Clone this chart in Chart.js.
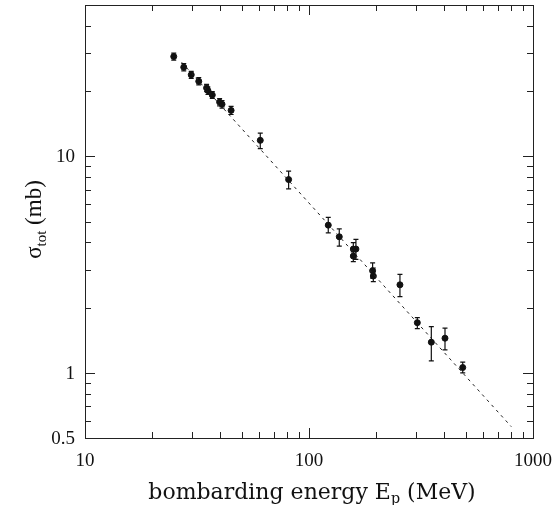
<!DOCTYPE html>
<html>
<head>
<meta charset="utf-8">
<script src="https://cdn.jsdelivr.net/npm/chart.js@4"></script>
<style>
  html, body { margin: 0; padding: 0; background: #fff; }
  #wrap { width: 556px; height: 505px; }
</style>
</head>
<body>
<div id="wrap"><canvas id="c"></canvas></div>
<script>
// measured cross sections (E_p in MeV, sigma in mb)
const energy = [24.9, 27.6, 29.8, 32.2, 34.9, 35.4, 37.0, 39.9, 40.9, 44.9, 60.6, 81.1,
                121.9, 136.5, 157.7, 162, 157.7, 192.3, 193.7, 254.7, 304.5, 351.6, 404.7, 485.6]
const sigma  = [28.9, 25.8, 23.8, 22.2, 20.7, 20.1, 19.2, 17.8, 17.4, 16.3, 11.85, 7.81,
                4.81, 4.25, 3.73, 3.73, 3.46, 2.96, 2.80, 2.55, 1.705, 1.385, 1.445, 1.058]
const sigmaLo = [27.8, 24.8, 22.9, 21.4, 19.9, 19.3, 18.5, 17.1, 16.7, 15.6, 10.85, 7.07,
                 4.43, 3.85, 3.50, 3.34, 3.26, 2.74, 2.64, 2.25, 1.60, 1.136, 1.276, 1.00]
const sigmaHi = [30.0, 26.8, 24.7, 23.1, 21.5, 20.9, 19.9, 18.5, 18.1, 17.0, 12.8, 8.55,
                 5.22, 4.62, 3.99, 4.13, 3.62, 3.22, 3.05, 2.85, 1.80, 1.635, 1.607, 1.12]

// power-law fit (dashed)
const fitE     = [27.0, 800]
const fitSigma = [27.2, 0.564]

// axis ticks and labels
const xMajor = [10, 100, 1000]
const xMinor = [20, 30, 40, 50, 60, 70, 80, 90, 200, 300, 400, 500, 600, 700, 800, 900]
const yMajor = [0.5, 1, 10]
const yMinor = [0.6, 0.7, 0.8, 0.9, 2, 3, 4, 5, 6, 7, 8, 9, 20, 30, 40]
const xLabels = ["10", "100", "1000"]
const yLabels = ["0.5", "1", "10"]

const SERIF = "'Liberation Serif', 'DejaVu Serif', serif"

// frame, inward ticks on all four sides, tick labels, error bars, axis titles
const decor = {
  id: "decor",
  afterDatasetsDraw(chart) {
    const ctx = chart.ctx
    const {left, right, top, bottom} = chart.chartArea
    const xs = chart.scales.x, ys = chart.scales.y

    ctx.save()
    ctx.strokeStyle = "#222"
    ctx.lineWidth = 1
    ctx.strokeRect(left + 0.5, top + 0.5, right - left, bottom - top)

    ctx.beginPath()
    const xt = (v, len) => {
      const p = Math.round(xs.getPixelForValue(v)) + 0.5
      ctx.moveTo(p, bottom); ctx.lineTo(p, bottom - len)
      ctx.moveTo(p, top); ctx.lineTo(p, top + len)
    }
    const yt = (v, len) => {
      const p = Math.round(ys.getPixelForValue(v)) + 0.5
      ctx.moveTo(left, p); ctx.lineTo(left + len, p)
      ctx.moveTo(right, p); ctx.lineTo(right - len, p)
    }
    xMajor.forEach(v => xt(v, 10))
    xMinor.forEach(v => xt(v, 6))
    yMajor.forEach(v => yt(v, 10))
    yMinor.forEach(v => yt(v, 6))
    ctx.stroke()

    // tick labels
    ctx.fillStyle = "#111"
    ctx.font = "19px " + SERIF
    ctx.textAlign = "center"
    ctx.textBaseline = "alphabetic"
    xMajor.forEach((v, i) => ctx.fillText(xLabels[i], xs.getPixelForValue(v), bottom + 28))
    ctx.textAlign = "right"
    ctx.textBaseline = "middle"
    yMajor.forEach((v, i) => ctx.fillText(yLabels[i], left - 10, ys.getPixelForValue(v) + 1))

    // error bars
    ctx.strokeStyle = "#111"
    ctx.lineWidth = 1.2
    ctx.beginPath()
    energy.forEach((e, i) => {
      const x = xs.getPixelForValue(e)
      const y1 = ys.getPixelForValue(sigmaLo[i])
      const y2 = ys.getPixelForValue(sigmaHi[i])
      ctx.moveTo(x, y1); ctx.lineTo(x, y2)
      ctx.moveTo(x - 2.5, y1); ctx.lineTo(x + 2.5, y1)
      ctx.moveTo(x - 2.5, y2); ctx.lineTo(x + 2.5, y2)
    })
    ctx.stroke()

    // axis titles with subscripts
    ctx.textAlign = "left"
    ctx.textBaseline = "alphabetic"
    const drawRun = (segs, size, family, cx, base) => {
      const ps = segs.map(([t, sub]) => {
        const sz = sub ? size * 0.65 : size
        ctx.font = sz + "px " + family
        return {t, sub, sz, w: ctx.measureText(t).width}
      })
      const total = ps.reduce((s, p) => s + p.w, 0)
      let x = cx - total / 2
      ps.forEach(p => {
        ctx.font = p.sz + "px " + family
        ctx.fillText(p.t, x, p.sub ? base + size * 0.2 : base)
        x += p.w
      })
    }

    drawRun([["bombarding energy E", false], ["p", true], [" (MeV)", false]],
            22, "'DejaVu Serif', serif", (left + right) / 2 + 3, 499)

    ctx.save()
    ctx.translate(41, (top + bottom) / 2 - 2)
    ctx.rotate(-Math.PI / 2)
    drawRun([["\u03c3", false], ["tot", true], [" (mb)", false]], 23, SERIF, 0, 0)
    ctx.restore()

    ctx.restore()
  }
}

new Chart(document.getElementById("c"), {
  type: "scatter",
  data: {
    datasets: [
      {
        label: "fit",
        type: "line",
        data: fitE.map((e, i) => ({x: e, y: fitSigma[i]})),
        borderColor: "#222",
        borderWidth: 1,
        borderDash: [3, 4],
        pointRadius: 0,
        fill: false,
        tension: 0
      },
      {
        label: "data",
        data: energy.map((e, i) => ({x: e, y: sigma[i]})),
        backgroundColor: "#111",
        borderColor: "#111",
        pointRadius: 3,
        pointHoverRadius: 3
      }
    ]
  },
  options: {
    responsive: true,
    maintainAspectRatio: false,
    animation: false,
    layout: { padding: { top: 5, right: 23, left: 0, bottom: 0 } },
    plugins: { legend: { display: false }, tooltip: { enabled: false } },
    scales: {
      x: {
        type: "logarithmic",
        min: 10, max: 1000,
        grid: { display: false, drawTicks: false },
        border: { display: false },
        ticks: { display: false },
        afterFit: s => { s.height = 67 }
      },
      y: {
        type: "logarithmic",
        min: 0.5, max: 50,
        grid: { display: false, drawTicks: false },
        border: { display: false },
        ticks: { display: false },
        afterFit: s => { s.width = 85 }
      }
    }
  },
  plugins: [decor]
})
</script>
</body>
</html>
